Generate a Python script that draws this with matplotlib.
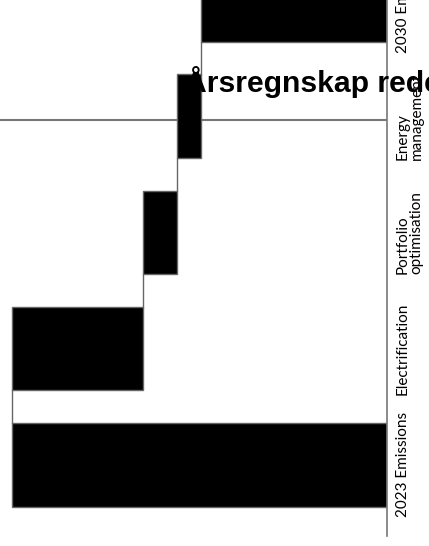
import numpy as np
import matplotlib
matplotlib.use("Agg")
import matplotlib.pyplot as plt

# waterfall data
categories = ["2023 Emissions", "Electrification", "Portfolio\noptimisation",
              "Energy\nmanagement", "2030 Emissions"]
start_value = 100.0
reductions = [35.0, 9.0, 6.5]
title = "Årsregnskap redegjørelse"

end_value = start_value - sum(reductions)

# build bar spans (left, width) for each category
lefts = [0.0]
widths = [start_value]
running = start_value
for r in reductions:
    lefts.append(running - r)
    widths.append(r)
    running -= r
lefts.append(0.0)
widths.append(end_value)

# running totals where connectors go
totals = [start_value]
t = start_value
for r in reductions:
    t -= r
    totals.append(t)

W, H = 429, 546
fig = plt.figure(figsize=(W / 100, H / 100), dpi=100)
ax = fig.add_axes([0, 10 / H, 387 / W, 536 / H])

ypos = np.arange(len(categories))
bar_h = 0.72
ax.barh(ypos, widths, left=lefts, height=bar_h, color="black",
        edgecolor="#666666", linewidth=1, zorder=2)

# connector lines between bars
for i, tot in enumerate(totals):
    ax.plot([tot, tot], [ypos[i] + bar_h / 2, ypos[i + 1] - bar_h / 2],
            color="#666666", linewidth=1, zorder=1)

ax.axhline(2.97, color="#777777", linewidth=1.5, zorder=0.5)

ax.set_xlim(387 / 3.75, 0)
ax.set_ylim(-0.612, 4.0)

for s in ["top", "bottom", "left"]:
    ax.spines[s].set_visible(False)
ax.spines["right"].set_color("#777777")
ax.spines["right"].set_linewidth(1.2)

ax.set_xticks([])
ax.yaxis.tick_right()
ax.set_yticks(ypos)
ax.set_yticklabels(categories, rotation=90, va="center", ha="left",
                   family="Lato", fontsize=11, linespacing=0.95)
ax.tick_params(axis="y", length=0, pad=6.5)

fig.text(185 / W, 1 - 92 / H, title, fontsize=21.7, fontweight="bold",
         family="Liberation Sans", va="baseline", ha="left")

fig.savefig("out.png", dpi=100)
